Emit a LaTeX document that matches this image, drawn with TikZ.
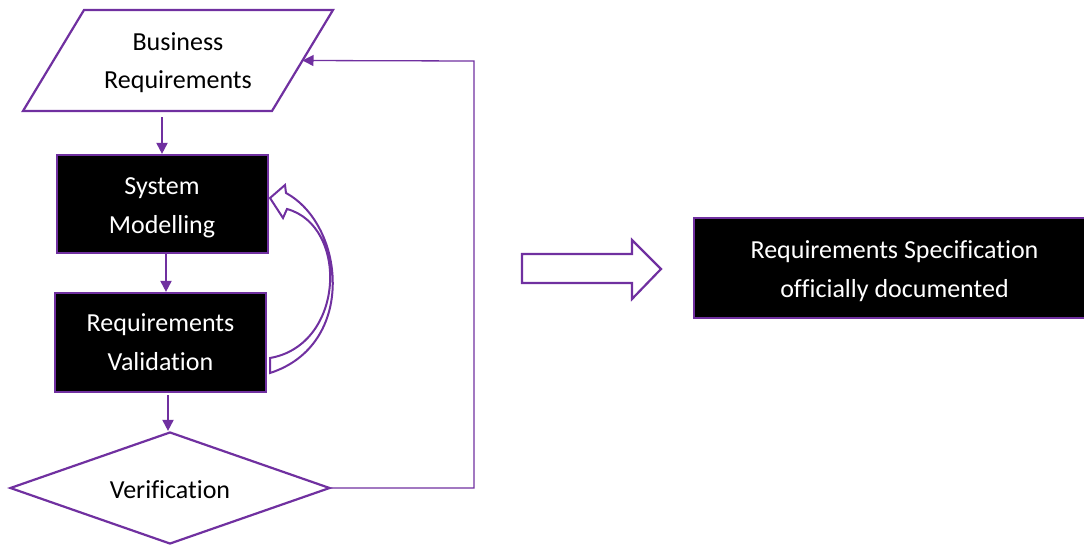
\documentclass[tikz,border=0pt]{standalone}
\usepackage{fontspec}
\setmainfont[Ligatures=NoCommon]{Carlito}
\usetikzlibrary{shapes.geometric,arrows.meta}
\definecolor{pur}{HTML}{7030A0}
\tikzset{
  blackbox/.style={draw=pur,line width=2.2pt,fill=black,text=white,align=center,inner sep=0pt,font=\fontsize{26}{39}\selectfont},
  txt/.style={align=center,inner sep=0pt,font=\fontsize{26}{38}\selectfont},
  wtxt/.style={txt,text=white,font=\fontsize{26}{39}\selectfont},
  flow/.style={draw=pur,line width=2pt,-{Triangle[length=11pt,width=11pt]}},
  loopline/.style={draw=pur,line width=1.3pt,-{Triangle[length=11pt,width=11pt]}},
  outline/.style={draw=pur,line width=2.2pt,line join=miter},
}
\begin{document}
\begin{tikzpicture}[x=1pt,y=-1pt]
\useasboundingbox (0,0) rectangle (1084,544);
% parallelogram
\coordinate (p1) at (84,10);
\coordinate (p2) at (333,10);
\coordinate (p3) at (272,111);
\coordinate (p4) at (23,111);
\draw[outline,fill=white] (p1) -- (p2) -- (p3) -- (p4) -- cycle;
\node[txt] (br) at (178,63) {Business\\Requirements};
\coordinate (brbot) at (162,111);
\coordinate (brright) at (302.5,60.5);
% boxes
\node[blackbox,minimum width=211pt,minimum height=98pt] (sm) at (162.5,204) {};
\node[wtxt] (smt) at (162,208) {System\\Modelling};
\node[blackbox,minimum width=211pt,minimum height=99pt] (rv) at (160.5,342.5) {Requirements\\Validation};
\node[draw=pur,line width=2.2pt,diamond,aspect=2.86,minimum width=320pt,minimum height=112pt,inner sep=0pt,fill=white] (ver) at (170,488) {};
\node[txt] (vert) at (170,490) {Verification};
\node[blackbox,minimum width=401pt,minimum height=100pt] (spec) at (894.5,268) {};
\node[wtxt] (spect) at (894.5,271) {Requirements Specification\\officially documented};
% connectors
\draw[flow] (brbot) ++(0,6) -- (sm.north -| brbot);
\draw[flow] (sm.south -| 166,0) -- (rv.north -| 166,0);
\draw[flow] (rv.south -| 168,0) ++(0,2) -- (ver.north -| 168,0);
\coordinate (c1) at (474,488);
\coordinate (c2) at (474,61);
\draw[loopline] (ver.east) -- (c1) -- (c2) -- (brright);
% curved block arrow
\draw[outline,line width=2pt,fill=white]
  (270,198) -- (285,185) -- (286,193)
  .. controls (345,225) and (357,345) .. (270,373)
  -- (270,358)
  .. controls (345,345) and (349,226) .. (287,209)
  -- (283,218) -- cycle;
% block arrow right
\draw[outline,line width=2.2pt,fill=white]
  (522,254) -- (632,254) -- (632,240) -- (661,269) -- (632,299) -- (632,283) -- (522,283) -- cycle;
\end{tikzpicture}
\end{document}
